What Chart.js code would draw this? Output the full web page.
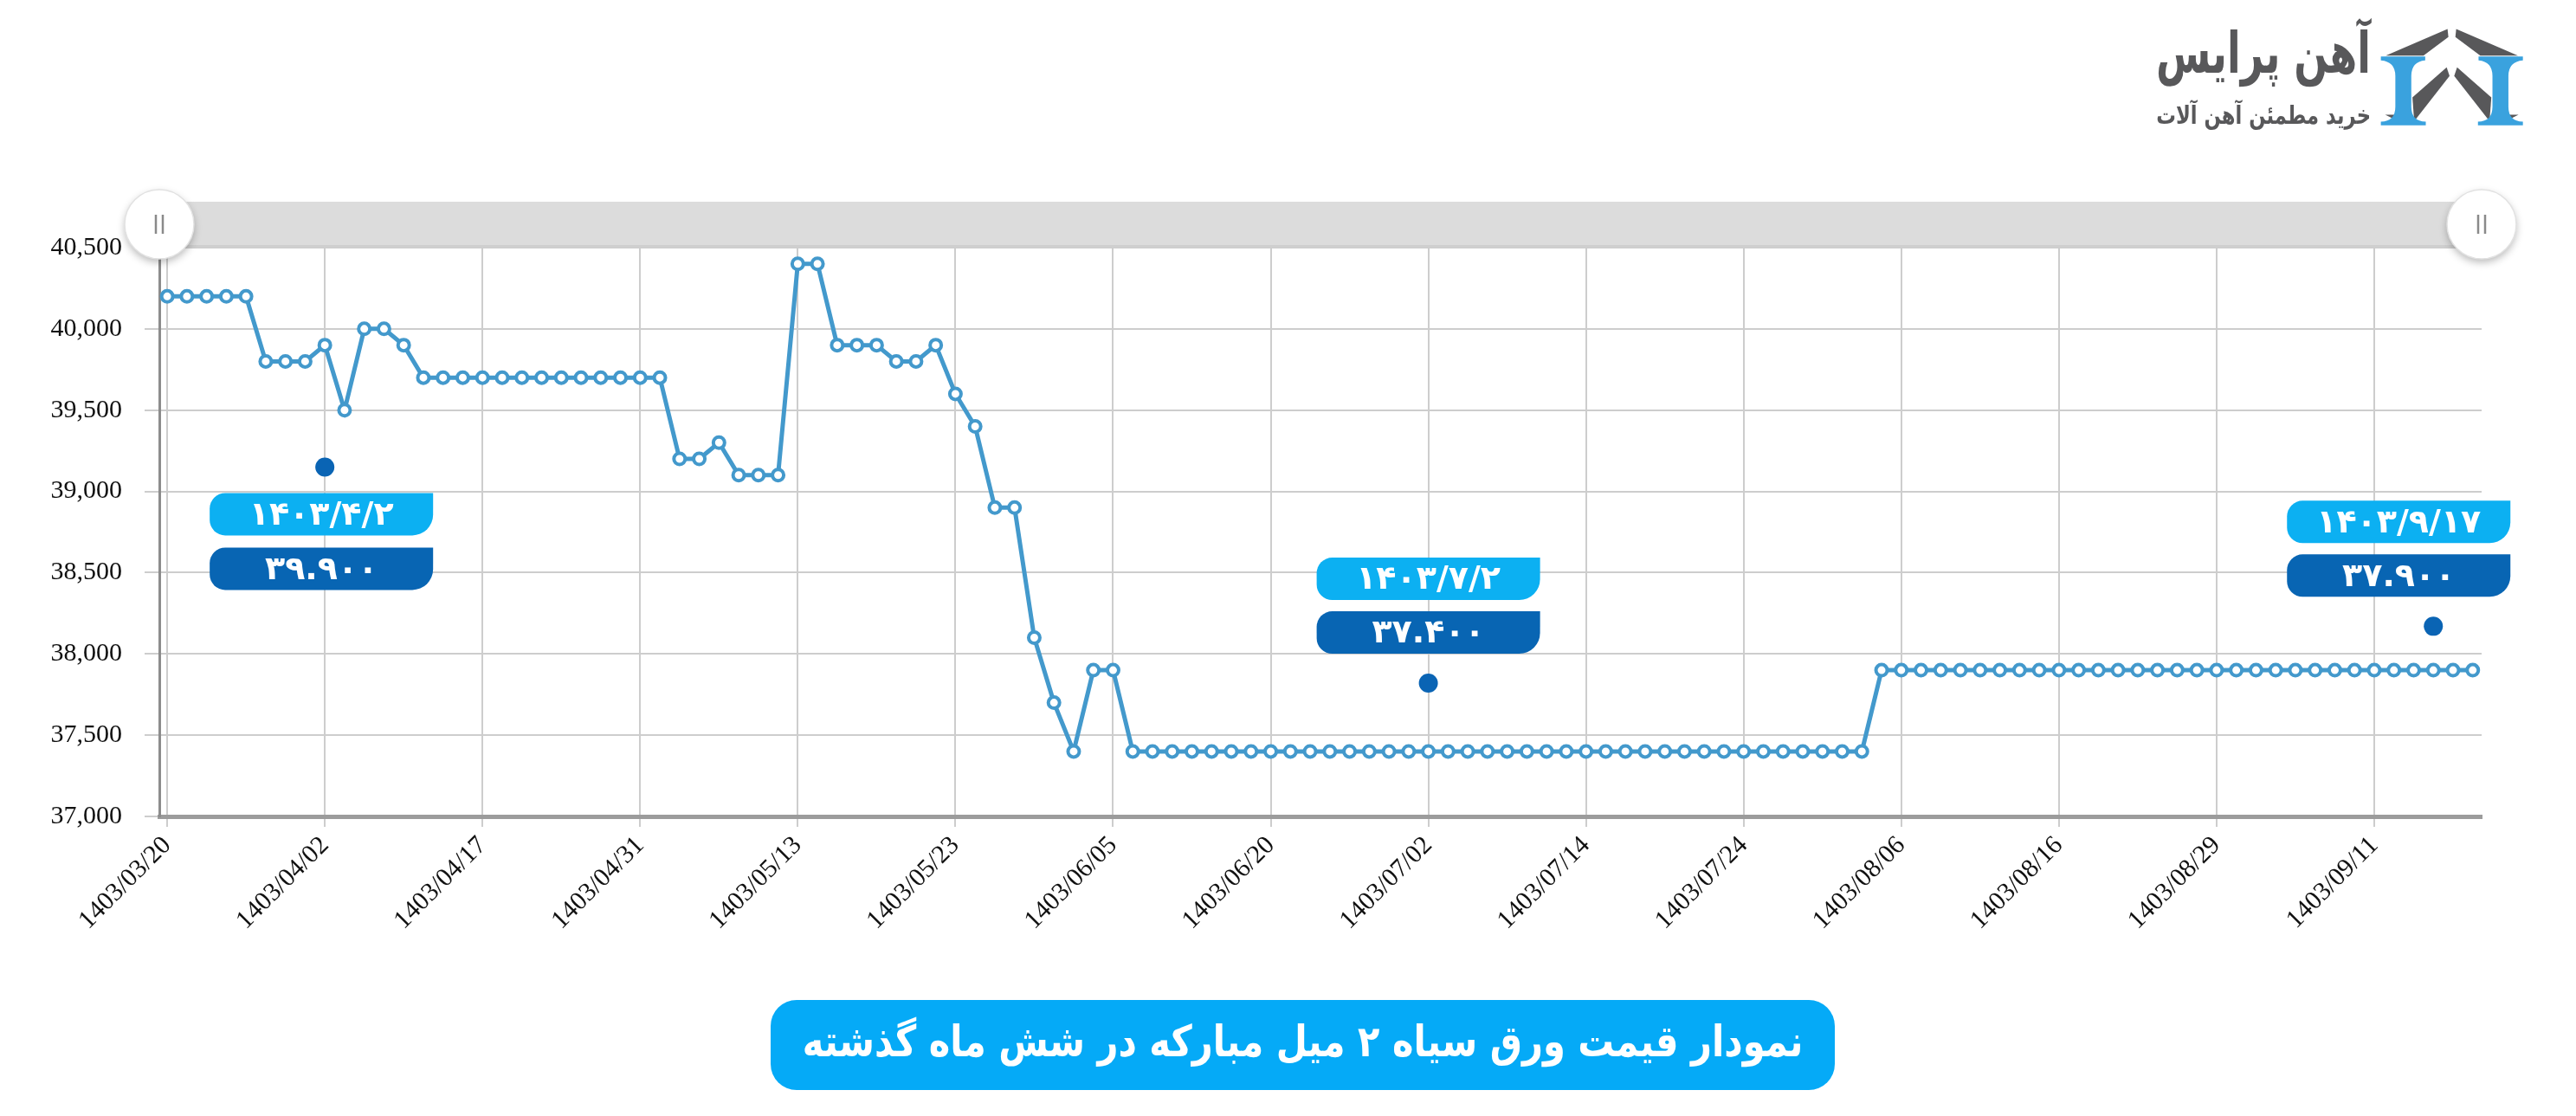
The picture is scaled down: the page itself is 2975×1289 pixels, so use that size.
<!DOCTYPE html>
<html>
<head>
<meta charset="utf-8">
<script src="https://cdn.jsdelivr.net/npm/chart.js@4.4.1/dist/chart.umd.min.js"></script>
<style>
html,body{margin:0;padding:0;background:#fff;}
#wrap{position:relative;width:2975px;height:1289px;}
</style>
</head>
<body>
<div id="wrap"><canvas id="c" width="2975" height="1289"></canvas></div>
<script>
// ---------- data ----------
const dates = [
 '1403/03/20','1403/03/21','1403/03/23','1403/03/24','1403/03/26','1403/03/27','1403/03/28','1403/03/30',
 '1403/04/02','1403/04/03','1403/04/05','1403/04/07','1403/04/09','1403/04/11','1403/04/13','1403/04/16',
 '1403/04/17','1403/04/18','1403/04/19','1403/04/21','1403/04/23','1403/04/24','1403/04/28','1403/04/30',
 '1403/04/31','1403/05/01','1403/05/02','1403/05/04','1403/05/06','1403/05/07','1403/05/09','1403/05/10',
 '1403/05/13','1403/05/14','1403/05/15','1403/05/16','1403/05/17','1403/05/20','1403/05/21','1403/05/22',
 '1403/05/23','1403/05/24','1403/05/25','1403/05/27','1403/05/28','1403/05/30','1403/06/01','1403/06/03',
 '1403/06/05','1403/06/06','1403/06/07','1403/06/10','1403/06/11','1403/06/13','1403/06/14','1403/06/17',
 '1403/06/20','1403/06/21','1403/06/24','1403/06/25','1403/06/27','1403/06/28','1403/06/31','1403/07/01',
 '1403/07/02','1403/07/03','1403/07/04','1403/07/07','1403/07/08','1403/07/09','1403/07/10','1403/07/11',
 '1403/07/14','1403/07/15','1403/07/16','1403/07/17','1403/07/18','1403/07/21','1403/07/22','1403/07/23',
 '1403/07/24','1403/07/25','1403/07/28','1403/07/29','1403/07/30','1403/08/01','1403/08/02','1403/08/05',
 '1403/08/06','1403/08/07','1403/08/08','1403/08/09','1403/08/12','1403/08/13','1403/08/14','1403/08/15',
 '1403/08/16','1403/08/19','1403/08/20','1403/08/21','1403/08/22','1403/08/26','1403/08/27','1403/08/28',
 '1403/08/29','1403/08/30','1403/09/03','1403/09/04','1403/09/05','1403/09/06','1403/09/07','1403/09/10',
 '1403/09/11','1403/09/12','1403/09/13','1403/09/17','1403/09/18','1403/09/19'
];
const prices = [
 40200,40200,40200,40200,40200,39800,39800,39800,
 39900,39500,40000,40000,39900,39700,39700,39700,
 39700,39700,39700,39700,39700,39700,39700,39700,
 39700,39700,39200,39200,39300,39100,39100,39100,
 40400,40400,39900,39900,39900,39800,39800,39900,
 39600,39400,38900,38900,38100,37700,37400,37900,
 37900,37400,37400,37400,37400,37400,37400,37400,
 37400,37400,37400,37400,37400,37400,37400,37400,
 37400,37400,37400,37400,37400,37400,37400,37400,
 37400,37400,37400,37400,37400,37400,37400,37400,
 37400,37400,37400,37400,37400,37400,37400,37900,
 37900,37900,37900,37900,37900,37900,37900,37900,
 37900,37900,37900,37900,37900,37900,37900,37900,
 37900,37900,37900,37900,37900,37900,37900,37900,
 37900,37900,37900,37900,37900,37900
];
const xTickIndex = [0,8,16,24,32,40,48,56,64,72,80,88,96,104,112];
const yTicks = [37000,37500,38000,38500,39000,39500,40000,40500];

const calloutIndex = [8, 64, 115];
const calloutMarkerValue = [39150, 37820, 38170];
const calloutDateText = ['۱۴۰۳/۴/۲', '۱۴۰۳/۷/۲', '۱۴۰۳/۹/۱۷'];
const calloutPriceText = ['۳۹.۹۰۰', '۳۷.۴۰۰', '۳۷.۹۰۰'];

const titleText = 'نمودار قیمت ورق سیاه ۲ میل مبارکه در شش ماه گذشته';
const brandName = 'آهن پرایس';
const brandSlogan = 'خرید مطمئن آهن آلات';

// ---------- styles ----------
const lineColor = '#4399cc';
const persianFont = '"DejaVu Sans", "Noto Sans", sans-serif';
const calloutPlacement = [
  {pos: 'below', dx: -4},
  {pos: 'above', dx: 0},
  {pos: 'above', dx: -40}
];

function fitFont(ctx, text, weight, size, family, maxW) {
  ctx.font = weight + ' ' + size + 'px ' + family;
  const w = ctx.measureText(text).width;
  if (w > maxW) { size = size * maxW / w; ctx.font = weight + ' ' + size + 'px ' + family; }
  return size;
}

const decor = {
  id: 'decor',
  afterDraw(chart) {
    const ctx = chart.ctx, ca = chart.chartArea, xs = chart.scales.x, ys = chart.scales.y;
    ctx.save();
    // slider bar
    ctx.fillStyle = '#dcdcdc';
    ctx.fillRect(ca.left, ca.top - 53, ca.right - ca.left, 53);
    ctx.fillStyle = '#cfcfcf';
    ctx.fillRect(ca.left, ca.top - 3, ca.right - ca.left, 3);
    // handles
    [ca.left, ca.right].forEach(hx => {
      const hy = ca.top - 27;
      ctx.save();
      ctx.shadowColor = 'rgba(0,0,0,0.28)';
      ctx.shadowBlur = 10;
      ctx.shadowOffsetY = 4;
      ctx.beginPath();
      ctx.arc(hx, hy, 40, 0, Math.PI * 2);
      ctx.fillStyle = '#ffffff';
      ctx.fill();
      ctx.restore();
      ctx.beginPath();
      ctx.arc(hx, hy, 40, 0, Math.PI * 2);
      ctx.strokeStyle = '#e2e2e2';
      ctx.lineWidth = 1.5;
      ctx.stroke();
      ctx.strokeStyle = '#8a8a8a';
      ctx.lineWidth = 2.5;
      ctx.beginPath();
      ctx.moveTo(hx - 4, hy - 11); ctx.lineTo(hx - 4, hy + 11);
      ctx.moveTo(hx + 4, hy - 11); ctx.lineTo(hx + 4, hy + 11);
      ctx.stroke();
    });

    // callouts
    const bw = 258, bh = 49;
    calloutIndex.forEach((idx, i) => {
      const px = xs.getPixelForValue(idx);
      const py = ys.getPixelForValue(calloutMarkerValue[i]);
      const pl = calloutPlacement[i];
      ctx.beginPath();
      ctx.arc(px, py, 11, 0, Math.PI * 2);
      ctx.fillStyle = '#0a64b4';
      ctx.fill();
      const cx = px + pl.dx;
      let dateTop, valTop;
      if (pl.pos === 'below') { dateTop = py + 30; valTop = dateTop + 63; }
      else { valTop = py - 34 - bh; dateTop = valTop - 62; }
      const bx = cx - bw / 2;
      ctx.beginPath();
      ctx.roundRect(bx, dateTop, bw, bh, [18, 0, 24, 18]);
      ctx.fillStyle = '#0cb0f2';
      ctx.fill();
      ctx.beginPath();
      ctx.roundRect(bx, valTop, bw, bh, [18, 0, 24, 18]);
      ctx.fillStyle = '#0865b3';
      ctx.fill();
      ctx.fillStyle = '#ffffff';
      ctx.textAlign = 'center';
      ctx.textBaseline = 'middle';
      ctx.direction = 'ltr';
      ctx.font = 'bold 38px ' + persianFont;
      ctx.fillText(calloutDateText[i], cx, dateTop + bh / 2 + 2);
      ctx.fillText(calloutPriceText[i], cx, valTop + bh / 2 + 2);
    });

    // title
    const tx = 890, ty = 1155, tw = 1229, th = 104;
    ctx.beginPath();
    ctx.roundRect(tx, ty, tw, th, 30);
    ctx.fillStyle = '#05aaf7';
    ctx.fill();
    ctx.fillStyle = '#ffffff';
    ctx.direction = 'rtl';
    ctx.textAlign = 'center';
    ctx.textBaseline = 'middle';
    ctx.save();
    ctx.translate(tx + tw / 2, ty + th / 2);
    ctx.scale(1, 1.2);
    fitFont(ctx, titleText, 'bold', 50, persianFont, 1156);
    ctx.fillText(titleText, 0, 0);
    ctx.restore();

    // logo text
    ctx.fillStyle = '#58585a';
    ctx.textAlign = 'right';
    ctx.textBaseline = 'alphabetic';
    ctx.save();
    ctx.translate(2738, 84);
    ctx.scale(1, 1.45);
    fitFont(ctx, brandName, 'bold', 70, persianFont, 248);
    ctx.fillText(brandName, 0, 0);
    ctx.restore();
    ctx.save();
    ctx.translate(2738, 143);
    ctx.scale(1, 1.3);
    fitFont(ctx, brandSlogan, 'bold', 34, persianFont, 248);
    ctx.fillText(brandSlogan, 0, 0);
    ctx.restore();

    // logo icon (drawn in its own local units)
    ctx.save();
    ctx.translate(2450, 0);
    ctx.scale(1 / 2.987, 1 / 2.987);
    const poly = (pts, color) => {
      ctx.beginPath();
      ctx.moveTo(pts[0][0], pts[0][1]);
      for (let k = 1; k < pts.length; k++) ctx.lineTo(pts[k][0], pts[k][1]);
      ctx.closePath();
      ctx.fillStyle = color;
      ctx.fill();
    };
    const mir = pts => pts.map(p => [2280 - p[0], p[1]]);
    const gray = '#58585a', blue = '#3aa2de';
    const roofL = [[1125,100],[1128,128],[1042,192],[912,192]];
    const innerL = [[1122,232],[1132,262],[1010,418],[1004,336]];
    const cornerL = [[910,396],[946,396],[946,414]];
    poly(roofL, gray); poly(mir(roofL), gray);
    poly(innerL, gray); poly(mir(innerL), gray);
    poly(cornerL, gray); poly(mir(cornerL), gray);
    const drawI = (sx) => {
      ctx.save();
      if (sx < 0) { ctx.translate(2280, 0); ctx.scale(-1, 1); }
      ctx.beginPath();
      ctx.moveTo(895,195); ctx.lineTo(1048,195); ctx.lineTo(1048,208);
      ctx.quadraticCurveTo(1000,212,1000,262); ctx.lineTo(1000,368);
      ctx.quadraticCurveTo(1000,418,1050,420); ctx.lineTo(1050,432);
      ctx.lineTo(895,432); ctx.lineTo(895,420);
      ctx.quadraticCurveTo(945,418,945,368); ctx.lineTo(945,262);
      ctx.quadraticCurveTo(945,212,895,208); ctx.closePath();
      ctx.fillStyle = blue; ctx.fill();
      ctx.restore();
    };
    drawI(1); drawI(-1);
    ctx.restore();

    ctx.restore();
  }
};

const chart = new Chart(document.getElementById('c').getContext('2d'), {
  type: 'line',
  data: {
    datasets: [{
      data: prices.map((v, i) => ({x: i, y: v})),
      borderColor: lineColor,
      borderWidth: 5,
      pointRadius: 6.5,
      pointBorderWidth: 4,
      pointBackgroundColor: '#ffffff',
      pointBorderColor: lineColor,
      tension: 0,
      clip: false
    }]
  },
  options: {
    responsive: false,
    animation: false,
    devicePixelRatio: 1,
    layout: {padding: {left: 0, right: 109, top: 286, bottom: 0}},
    plugins: {legend: {display: false}, tooltip: {enabled: false}},
    scales: {
      x: {
        type: 'linear',
        min: -0.4,
        max: 117.45,
        afterBuildTicks: s => { s.ticks = xTickIndex.map(v => ({value: v})); },
        afterFit: s => { s.height = 346; },
        ticks: {
          autoSkip: false,
          minRotation: 45,
          maxRotation: 45,
          padding: 4,
          color: '#111',
          font: {family: '"Liberation Serif", serif', size: 30},
          callback: v => dates[v]
        },
        grid: {color: '#cdcdcd', lineWidth: 2, tickLength: 12},
        border: {color: '#9c9c9c', width: 5}
      },
      y: {
        min: 37000,
        max: 40500,
        afterBuildTicks: s => { s.ticks = yTicks.map(v => ({value: v})); },
        afterFit: s => { s.width = 184; },
        ticks: {
          padding: 26,
          color: '#111',
          font: {family: '"Liberation Serif", serif', size: 30},
          callback: v => v.toLocaleString('en-US')
        },
        grid: {color: '#cdcdcd', lineWidth: 2, tickLength: 17},
        border: {color: '#8c8c8c', width: 3}
      }
    }
  },
  plugins: [decor]
});
</script>
</body>
</html>
